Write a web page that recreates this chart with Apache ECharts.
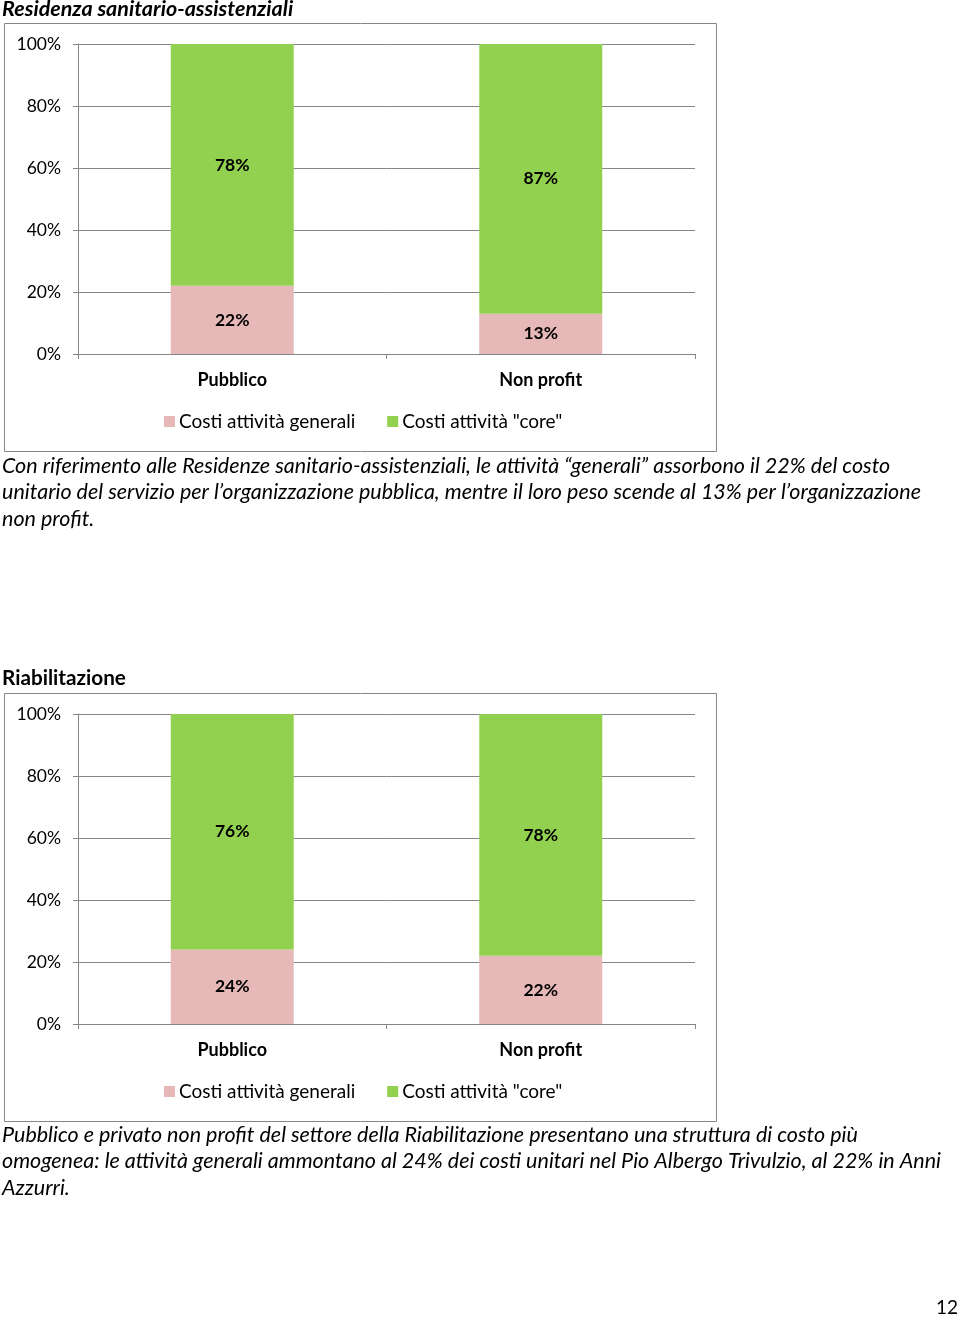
<!DOCTYPE html>
<html>
<head>
<meta charset="utf-8">
<script src="https://cdn.jsdelivr.net/npm/echarts@6/dist/echarts.min.js"></script>
<style>
html,body{margin:0;padding:0;background:#fff;}
#page{width:960px;height:1318px;}
</style>
</head>
<body>
<div id="page"></div>
<script>
// ---- data ----
const categories = ['Pubblico', 'Non profit'];
const seriesNames = ['Costi attività generali', 'Costi attività "core"'];
const rsaGenerali = [22, 13];
const rsaCore = [78, 87];
const riabGenerali = [24, 22];
const riabCore = [76, 78];
const chartTitles = ['Residenza sanitario-assistenziali', 'Riabilitazione'];
const para1 = [
  'Con riferimento alle Residenze sanitario-assistenziali, le attività \u201cgenerali\u201d assorbono il 22% del costo',
  'unitario del servizio per l\u2019organizzazione pubblica, mentre il loro peso scende al 13% per l\u2019organizzazione',
  'non profit.'
];
const para2 = [
  'Pubblico e privato non profit del settore della Riabilitazione presentano una struttura di costo più',
  'omogenea: le attività generali ammontano al 24% dei costi unitari nel Pio Albergo Trivulzio, al 22% in Anni',
  'Azzurri.'
];
const pageNumber = '12';

// ---- style ----
const FONT = 'Lato, "Open Sans", sans-serif';
const GRAY = '#868686';
const PINK = '#E6B9B8';
const GREEN = '#92D050';
const OFF = 670;

const chart = echarts.init(document.getElementById('page'), null, {renderer: 'canvas'});

function gridFor(i) {
  const top = 44 + i * OFF;
  return {left: 78, width: 617, top: top, height: 310, containLabel: false};
}
function xAxisFor(i) {
  return {
    type: 'category', gridIndex: i, data: categories,
    axisLine: {show: true, lineStyle: {color: GRAY, width: 1}},
    axisTick: {show: true, length: 5, lineStyle: {color: GRAY}},
    axisLabel: {margin: 17, color: '#000', fontFamily: FONT, fontSize: 18, fontWeight: 'bold'}
  };
}
function yAxisFor(i) {
  return {
    type: 'value', gridIndex: i, min: 0, max: 100, interval: 20,
    axisLine: {show: true, lineStyle: {color: GRAY, width: 1}},
    axisTick: {show: true, length: 5, lineStyle: {color: GRAY}},
    splitLine: {show: true, lineStyle: {color: GRAY, width: 1}},
    axisLabel: {margin: 17, color: '#000', fontFamily: FONT, fontSize: 17.5, formatter: '{value}%'}
  };
}
function barSeries(name, data, color, i) {
  return {
    name: name, type: 'bar', stack: 'tot' + i, xAxisIndex: i, yAxisIndex: i,
    data: data, barWidth: 123, itemStyle: {color: color},
    label: {show: true, position: 'inside', formatter: '{c}%', color: '#000',
            fontFamily: FONT, fontSize: 17.5, fontWeight: 'bold'},
    emphasis: {disabled: true}
  };
}
function legendFor(i) {
  return {
    data: seriesNames, left: 164, top: 412 + i * OFF, orient: 'horizontal', padding: 0,
    icon: 'rect', itemWidth: 11, itemHeight: 11, itemGap: 32,
    textStyle: {color: '#000', fontFamily: FONT, fontSize: 19, padding: [0, 0, 0, -1]},
    selectedMode: false
  };
}

const graphics = [];
for (let i = 0; i < 2; i++) {
  graphics.push({type: 'rect',
    shape: {x: 4.5, y: 23.5 + i * OFF, width: 712, height: 428},
    style: {fill: null, stroke: GRAY, lineWidth: 1}, z: -1});
}
graphics.push({type: 'text', left: 2, top: -2,
  style: {text: chartTitles[0], fill: '#000', fontFamily: FONT, fontSize: 21.5,
    fontWeight: 'bold', fontStyle: 'italic'}});
graphics.push({type: 'text', left: 2, top: 667.5,
  style: {text: chartTitles[1], fill: '#000', fontFamily: FONT, fontSize: 20.7,
    fontWeight: 'bold'}});
para1.forEach((t, k) => graphics.push({type: 'text', left: 2, top: 455 + k * 26.3,
  style: {text: t, fill: '#000', fontFamily: FONT, fontSize: 21.5, fontStyle: 'italic'}}));
para2.forEach((t, k) => graphics.push({type: 'text', left: 2, top: 1124 + k * 26.5,
  style: {text: t, fill: '#000', fontFamily: FONT, fontSize: 21.5, fontStyle: 'italic'}}));
graphics.push({type: 'text', left: 936, top: 1298,
  style: {text: pageNumber, fill: '#000', fontFamily: FONT, fontSize: 19}});

chart.setOption({
  animation: false,
  backgroundColor: '#fff',
  grid: [gridFor(0), gridFor(1)],
  xAxis: [xAxisFor(0), xAxisFor(1)],
  yAxis: [yAxisFor(0), yAxisFor(1)],
  legend: [legendFor(0), legendFor(1)],
  series: [
    barSeries(seriesNames[0], rsaGenerali, PINK, 0),
    barSeries(seriesNames[1], rsaCore, GREEN, 0),
    barSeries(seriesNames[0], riabGenerali, PINK, 1),
    barSeries(seriesNames[1], riabCore, GREEN, 1)
  ],
  graphic: graphics
});
</script>
</body>
</html>
